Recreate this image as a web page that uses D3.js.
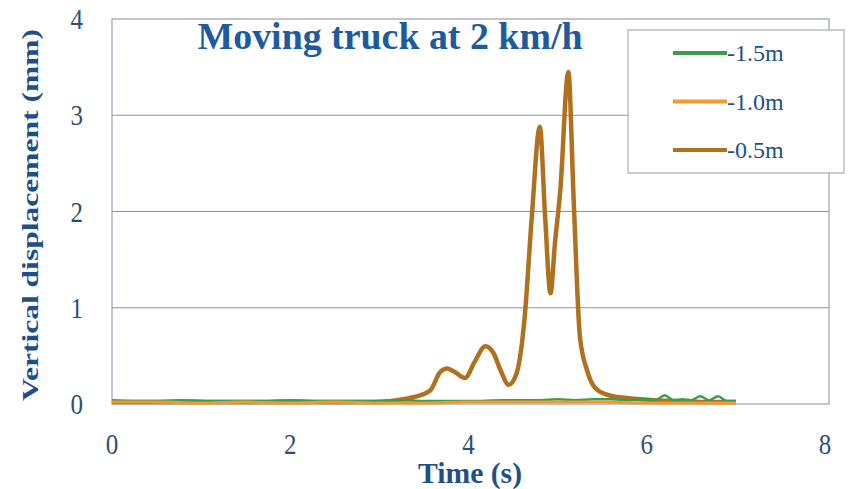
<!DOCTYPE html>
<html>
<head>
<meta charset="utf-8">
<script src="https://cdnjs.cloudflare.com/ajax/libs/d3/7.8.5/d3.min.js"></script>
<style>
  body { margin: 0; background: #fff; }
  svg { display: block; }
  text { font-family: "Liberation Serif", "Times New Roman", serif; }
</style>
</head>
<body>
<svg width="851" height="489"></svg>
<script>
// series -0.5m (brown)
var brownT = [0, 0.5, 1, 1.5, 2, 2.5, 3.0, 3.2, 3.38, 3.57, 3.68, 3.76, 3.85, 3.96, 4.07, 4.19, 4.28, 4.36, 4.45, 4.54,
              4.63, 4.71, 4.80, 4.86, 4.92, 4.97, 5.03, 5.12, 5.18, 5.25, 5.33, 5.44, 5.62, 5.93, 6.3, 6.7, 7.0];
var brownV = [0.02, 0.02, 0.02, 0.02, 0.02, 0.02, 0.02, 0.04, 0.07, 0.14, 0.33, 0.37, 0.33, 0.27, 0.44, 0.60, 0.53, 0.35, 0.20, 0.32,
              0.90, 1.94, 2.88, 1.94, 1.15, 1.67, 2.22, 3.45, 2.12, 0.70, 0.35, 0.15, 0.08, 0.05, 0.03, 0.02, 0.02];

// series -1.5m (green), small noise near zero
var greenT = [0, 0.4, 0.8, 1.2, 1.6, 2.0, 2.4, 2.8, 3.2, 3.6, 4.0, 4.4, 4.8, 5.0, 5.2, 5.4, 5.6, 5.8, 6.0, 6.1, 6.2, 6.3, 6.4, 6.5, 6.6, 6.7, 6.8, 6.9, 7.0];
var greenV = [0.04, 0.03, 0.04, 0.03, 0.03, 0.04, 0.03, 0.03, 0.04, 0.03, 0.03, 0.04, 0.04, 0.05, 0.04, 0.05, 0.05, 0.04, 0.05, 0.04, 0.09, 0.04, 0.05, 0.04, 0.08, 0.04, 0.08, 0.03, 0.03];

// series -1.0m (orange), flat near zero
var orangeT = [0, 0.5, 1, 1.5, 2, 2.5, 3, 3.5, 4, 4.5, 5, 5.5, 6, 6.5, 7.0];
var orangeV = [0.02, 0.02, 0.01, 0.02, 0.01, 0.02, 0.01, 0.01, 0.02, 0.02, 0.02, 0.02, 0.01, 0.01, 0.01];

var xTicks = [0, 2, 4, 6, 8];
var yTicks = [0, 1, 2, 3, 4];

var seriesNames = ["-1.5m", "-1.0m", "-0.5m"];
var seriesColors = ["#3c9c4c", "#f29a2e", "#b0711f"];

function zip(t, v) { return t.map(function (d, i) { return { t: d, v: v[i] }; }); }

var series = [
    { name: seriesNames[2], color: seriesColors[2], width: 4.5, data: zip(brownT, brownV) },
    { name: seriesNames[0], color: seriesColors[0], width: 2.5, data: zip(greenT, greenV) },
    { name: seriesNames[1], color: seriesColors[1], width: 3, data: zip(orangeT, orangeV) }
];

var svg = d3.select("svg");
var plotL = 112, plotR = 829, plotT = 19, plotB = 404;

var x = d3.scaleLinear().domain([0, 8]).range([plotL, plotR - 4]);
var y = d3.scaleLinear().domain([0, 4]).range([plotB, plotT]);

// gridlines
svg.append("g")
    .selectAll("line")
    .data(yTicks.slice(1, 4))
    .enter().append("line")
    .attr("x1", plotL).attr("x2", plotR)
    .attr("y1", function (d) { return y(d); })
    .attr("y2", function (d) { return y(d); })
    .attr("stroke", "#8a93a8").attr("stroke-width", 1.2);

// plot border
svg.append("rect")
    .attr("x", plotL).attr("y", plotT)
    .attr("width", plotR - plotL).attr("height", plotB - plotT)
    .attr("fill", "none").attr("stroke", "#9aa0ae").attr("stroke-width", 1.2);

var line = d3.line()
    .x(function (d) { return x(d.t); })
    .y(function (d) { return y(d.v); })
    .curve(d3.curveMonotoneX);

svg.append("g")
    .selectAll("path")
    .data(series)
    .enter().append("path")
    .attr("d", function (d) { return line(d.data); })
    .attr("fill", "none")
    .attr("stroke", function (d) { return d.color; })
    .attr("stroke-width", function (d) { return d.width; })
    .attr("stroke-linejoin", "round");

// tick labels (the original font is a bit tall, so stretch vertically)
svg.append("g")
    .selectAll("text")
    .data(yTicks)
    .enter().append("text")
    .attr("transform", function (d) { return "translate(83," + (y(d) + 10) + ") scale(1,1.15)"; })
    .attr("text-anchor", "end")
    .attr("font-size", 25)
    .attr("fill", "#2d4f74")
    .text(function (d) { return d; });

svg.append("g")
    .selectAll("text")
    .data(xTicks)
    .enter().append("text")
    .attr("transform", function (d) { return "translate(" + x(d) + ",454) scale(1,1.15)"; })
    .attr("text-anchor", "middle")
    .attr("font-size", 25)
    .attr("fill", "#2d4f74")
    .text(function (d) { return d; });

// title
svg.append("text")
    .attr("transform", "translate(390,49) scale(1,1.2)")
    .attr("text-anchor", "middle")
    .attr("font-size", 31).attr("font-weight", "bold")
    .attr("fill", "#1e5b9e")
    .attr("textLength", 385).attr("lengthAdjust", "spacingAndGlyphs")
    .text("Moving truck at 2 km/h");

// axis titles
svg.append("text")
    .attr("transform", "translate(470,483) scale(1,1.15)")
    .attr("text-anchor", "middle")
    .attr("font-size", 26).attr("font-weight", "bold")
    .attr("fill", "#1f4f87")
    .attr("textLength", 104).attr("lengthAdjust", "spacingAndGlyphs")
    .text("Time (s)");

svg.append("text")
    .attr("transform", "translate(38,215) rotate(-90)")
    .attr("text-anchor", "middle")
    .attr("font-size", 24).attr("font-weight", "bold")
    .attr("fill", "#1f4f87")
    .attr("textLength", 372).attr("lengthAdjust", "spacingAndGlyphs")
    .text("Vertical displacement (mm)");

// legend
var legend = svg.append("g");
legend.append("rect")
    .attr("x", 628).attr("y", 30)
    .attr("width", 216).attr("height", 143)
    .attr("fill", "#fff").attr("stroke", "#a8acb6").attr("stroke-width", 1.2);

var rows = legend.selectAll("g")
    .data(seriesNames)
    .enter().append("g")
    .attr("transform", function (d, i) { return "translate(0," + (53 + i * 48.5) + ")"; });

rows.append("line")
    .attr("x1", 673).attr("x2", 727)
    .attr("stroke", function (d, i) { return seriesColors[i]; })
    .attr("stroke-width", 4);

rows.append("text")
    .attr("x", 727).attr("y", 8)
    .attr("font-size", 24)
    .attr("fill", "#1f4f87")
    .text(function (d) { return d; });
</script>
</body>
</html>
